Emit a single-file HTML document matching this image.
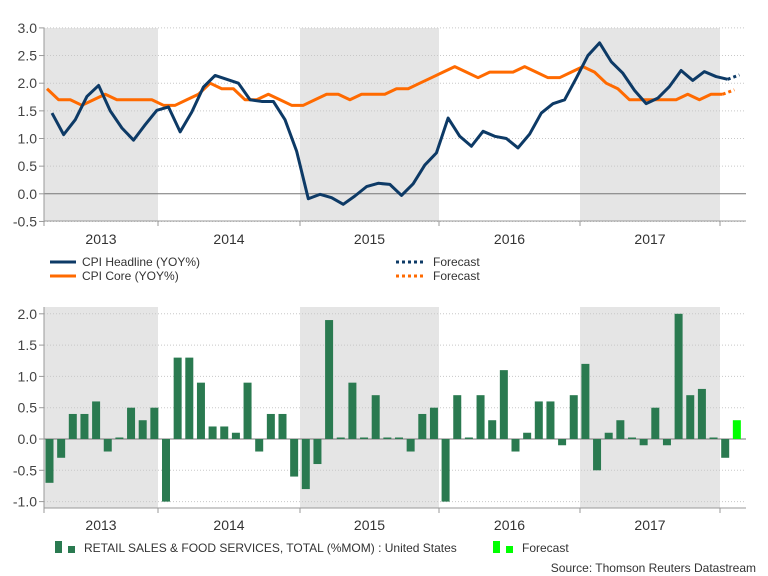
<!DOCTYPE html>
<html><head><meta charset="utf-8"><style>
body{margin:0;background:#fff;}
svg{display:block;font-family:"Liberation Sans",sans-serif;}
</style></head><body>
<svg id="c" width="768" height="576"></svg>
<script>
const years=["2013","2014","2015","2016","2017"];
const yearBounds=[44,158,300,439,580,720];
const cpiTicks=[3.0,2.5,2.0,1.5,1.0,0.5,0.0,-0.5];
const cpiHeadline=[1.46,1.07,1.34,1.76,1.96,1.5,1.19,0.97,1.25,1.51,1.57,1.12,1.48,1.93,2.14,2.07,2.0,1.7,1.67,1.67,1.34,0.77,-0.09,-0.01,-0.07,-0.19,-0.04,0.13,0.19,0.17,-0.03,0.18,0.52,0.74,1.37,1.04,0.86,1.13,1.04,1.0,0.83,1.08,1.46,1.63,1.7,2.09,2.5,2.73,2.39,2.18,1.87,1.63,1.73,1.94,2.23,2.05,2.21,2.12,2.07];
const cpiHeadlineForecast=[2.15];
const cpiCore=[1.9,1.7,1.7,1.6,1.7,1.8,1.7,1.7,1.7,1.7,1.6,1.6,1.7,1.8,2.0,1.9,1.9,1.7,1.7,1.8,1.7,1.6,1.6,1.7,1.8,1.8,1.7,1.8,1.8,1.8,1.9,1.9,2.0,2.1,2.2,2.3,2.2,2.1,2.2,2.2,2.2,2.3,2.2,2.1,2.1,2.2,2.3,2.2,2.0,1.9,1.7,1.7,1.7,1.7,1.7,1.8,1.7,1.8,1.8];
const cpiCoreForecast=[1.88];
const retailTicks=[2.0,1.5,1.0,0.5,0.0,-0.5,-1.0];
const retail=[-0.7,-0.3,0.4,0.4,0.6,-0.2,0.0,0.5,0.3,0.5,-1.0,1.3,1.3,0.9,0.2,0.2,0.1,0.9,-0.2,0.4,0.4,-0.6,-0.8,-0.4,1.9,0.0,0.9,0.0,0.7,0.0,0.0,-0.2,0.4,0.5,-1.0,0.7,0.0,0.7,0.3,1.1,-0.2,0.1,0.6,0.6,-0.1,0.7,1.2,-0.5,0.1,0.3,0.0,-0.1,0.5,-0.1,2.0,0.7,0.8,0.0,-0.3];
const retailForecast=[0.3];

const NS="http://www.w3.org/2000/svg";
const svg=document.getElementById('c');
function mk(t,a,p){const e=document.createElementNS(NS,t);for(const k in a)e.setAttribute(k,a[k]);(p||svg).appendChild(e);return e;}
const L=44,R=746,step=11.65;
const yTop=v=>193.8-v*55.3;
const yBot=v=>439-v*62.6;
const xH=i=>52+i*step, xC=i=>47+i*step, xB=i=>49.5+i*step;

function panel(name,y0,y1,yf,ticks,labY){
  const g=mk('g',{});
  
  
  for(let k=0;k<5;k+=2){
    const r=mk('rect',{x:yearBounds[k],y:y0,width:yearBounds[k+1]-yearBounds[k],height:y1-y0,fill:'#e5e5e5'},g);
    
    
  }
  ticks.forEach(t=>{
    const y=yf(t);
    if(t!==0) mk('line',{x1:L,x2:R,y1:y,y2:y,stroke:'#c8c8c8','stroke-dasharray':'1,2'},g);
    mk('line',{x1:L-5,x2:L,y1:y,y2:y,stroke:'#999'},g);
    const tx=mk('text',{x:37,y:y+5,'text-anchor':'end','font-size':14,fill:'#444'},g);
    tx.textContent=t.toFixed(1);
    
    
  });
  mk('line',{x1:L,x2:R,y1:yf(0),y2:yf(0),stroke:'#777','stroke-width':1},g);
  mk('line',{x1:L,x2:L,y1:y0,y2:y1,stroke:'#999'},g);
  mk('line',{x1:L,x2:R,y1:y1,y2:y1,stroke:'#999'},g);
  yearBounds.forEach(b=>mk('line',{x1:b,x2:b,y1:y1,y2:y1+5,stroke:'#999'},g));
  years.forEach((yr,k)=>{
    const t=mk('text',{x:(yearBounds[k]+yearBounds[k+1])/2,y:labY,'text-anchor':'middle','font-size':14,fill:'#333'},g);
    t.textContent=yr;
    
    
  });
}
panel('cpi-panel',28,221,yTop,cpiTicks,244);
panel('retail-panel',307,508,yBot,retailTicks,530);

function line(arr,xf,color,name,fc){
  const p=mk('polyline',{points:arr.map((v,i)=>xf(i)+','+yTop(v)).join(' '),fill:'none',stroke:color,'stroke-width':3,'stroke-linejoin':'round'});
  
  
  const n=arr.length-1;
  const pts=[xf(n)+','+yTop(arr[n])].concat(fc.map((v,i)=>xf(n+1+i)+','+yTop(v)));
  const f=mk('polyline',{points:pts.join(' '),fill:'none',stroke:color,'stroke-width':3,'stroke-dasharray':'3,3'});
  
  
}
line(cpiCore,xC,'#ff6a00','cpi-core-line',cpiCoreForecast);
line(cpiHeadline,xH,'#0d3a66','cpi-headline-line',cpiHeadlineForecast);

retail.forEach((v,i)=>{
  const y=yBot(Math.max(v,0)),h=Math.max(Math.abs(yBot(v)-yBot(0)),1.5);
  const r=mk('rect',{x:xB(i)-4,y:v>=0?yBot(0)-h:yBot(0),width:8,height:h,fill:'#2a7a50'});
  
  
});
retailForecast.forEach((v,i)=>{
  const n=retail.length+i;
  const r=mk('rect',{x:xB(n)-4,y:yBot(v),width:8,height:yBot(0)-yBot(v),fill:'#00ff00'});
  
  
});

function txt(x,y,s,name,anchor){const t=mk('text',{x:x,y:y,'font-size':12,fill:'#333','text-anchor':anchor||'start'});t.textContent=s;return t;}
mk('line',{x1:50,x2:76,y1:262,y2:262,stroke:'#0d3a66','stroke-width':3});
txt(82,266,'CPI Headline (YOY%)','legend-headline');
mk('line',{x1:50,x2:76,y1:276,y2:276,stroke:'#ff6a00','stroke-width':3});
txt(82,280,'CPI Core (YOY%)','legend-core');
mk('line',{x1:396,x2:426,y1:262,y2:262,stroke:'#0d3a66','stroke-width':3,'stroke-dasharray':'3,3'});
txt(433,266,'Forecast','legend-headline-forecast');
mk('line',{x1:396,x2:426,y1:276,y2:276,stroke:'#ff6a00','stroke-width':3,'stroke-dasharray':'3,3'});
txt(433,280,'Forecast','legend-core-forecast');
mk('rect',{x:55,y:541,width:7,height:12,fill:'#2a7a50'});
mk('rect',{x:68,y:546,width:7,height:7,fill:'#2a7a50'});
txt(84,552,'RETAIL SALES & FOOD SERVICES, TOTAL (%MOM) : United States','legend-retail');
mk('rect',{x:493,y:541,width:7,height:12,fill:'#00ff00'});
mk('rect',{x:506,y:546,width:7,height:7,fill:'#00ff00'});
txt(522,552,'Forecast','legend-retail-forecast');
txt(756,572,'Source: Thomson Reuters Datastream','source-note','end');
</script>
</body></html>
